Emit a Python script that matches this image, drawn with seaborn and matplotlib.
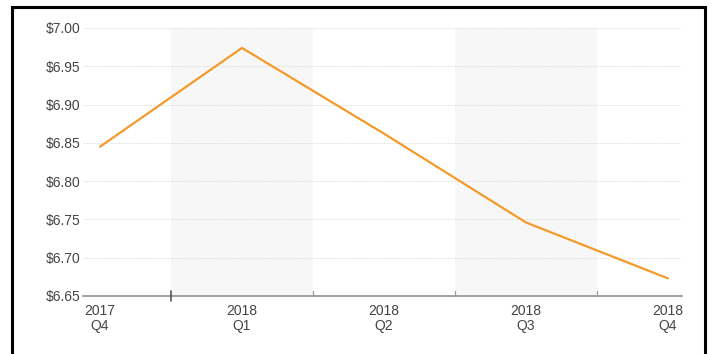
import matplotlib
matplotlib.use("Agg")
import matplotlib.pyplot as plt
import seaborn as sns
import pandas as pd
from matplotlib.patches import Rectangle

quarters = ["2017\nQ4", "2018\nQ1", "2018\nQ2", "2018\nQ3", "2018\nQ4"]
prices = [6.845, 6.974, 6.862, 6.746, 6.673]
y_ticks = [6.65, 6.70, 6.75, 6.80, 6.85, 6.90, 6.95, 7.00]

sns.set_theme(style="white")
plt.rcParams['font.family'] = ['Liberation Sans', 'DejaVu Sans']

df = pd.DataFrame({"pos": range(len(quarters)), "price": prices})

fig = plt.figure(figsize=(7.15, 3.54), dpi=100)
ax = fig.add_axes([83/715, 1-296/354, (682-83)/715, (296-28)/354])

# shaded bands
for c in [1, 3]:
    ax.axvspan(c-0.5, c+0.5, color="#f7f7f7", zorder=0, lw=0)

for yv in y_ticks[1:]:
    ax.axhline(yv, color="#dcdcdc", lw=0.7, ls=(0, (1.5, 1.5)), zorder=1)

sns.lineplot(data=df, x="pos", y="price", ax=ax, color="#f39a2b", lw=1.6, zorder=3)

ax.set_xlim((83-100)/142, (682-100)/142)
ax.set_ylim(6.65, 7.00)
ax.set_yticks(y_ticks)
ax.set_yticklabels([f"${v:.2f}" for v in y_ticks], color="#444444", fontsize=10)
ax.set_xticks(range(len(quarters)))
ax.set_xticklabels(quarters, color="#444444", fontsize=10, linespacing=1.05)
ax.tick_params(axis="x", length=0, pad=6)
ax.tick_params(axis="y", length=0, pad=2)
ax.set_xlabel("")
ax.set_ylabel("")

for s in ["top", "right", "left"]:
    ax.spines[s].set_visible(False)
ax.spines["bottom"].set_color("#999999")
ax.spines["bottom"].set_linewidth(1.3)

# boundary ticks between quarters
for i, b in enumerate([0.5, 1.5, 2.5, 3.5]):
    if i == 0:
        ax.plot([b, b], [6.65 - 0.007, 6.65 + 0.006], color="#555555", lw=1.2,
                clip_on=False, zorder=4)
    else:
        ax.plot([b, b], [6.65, 6.65 + 0.006], color="#999999", lw=0.9,
                clip_on=False, zorder=4)

# outer frame
fig.patches.append(Rectangle((12/715, -0.05), (705-12)/715, 1 - 7/354 + 0.05,
                             transform=fig.transFigure, fill=False,
                             edgecolor="black", lw=2.2))

fig.savefig("out.png", dpi=100)
